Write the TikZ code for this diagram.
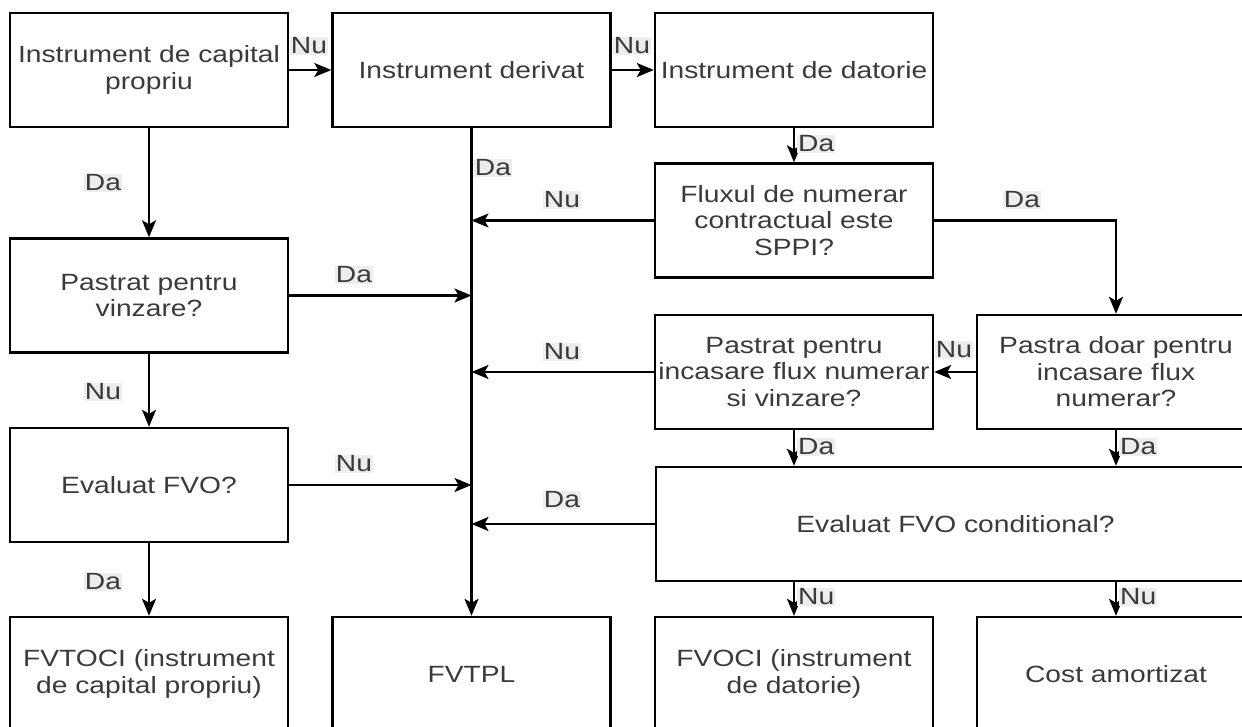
\documentclass[tikz,border=0pt]{standalone}
\usepackage{fontspec}
\setmainfont{Liberation Sans}[FakeStretch=1.2]
\usetikzlibrary{arrows.meta}
\definecolor{txt}{RGB}{58,58,58}
\begin{document}
\begin{tikzpicture}[x=1pt,y=-1pt,
  txtfont/.style={font=\fontsize{23.5}{26.5}\selectfont},
  box/.style={draw, line width=2.4pt, minimum width=278pt, minimum height=114pt,
    align=center, text=txt, txtfont, inner sep=2pt},
  lbl/.style={fill=black!7, inner sep=1pt, text=txt, txtfont},
  arr/.style={line width=2.2pt, -{Stealth[length=17pt,width=14pt,inset=4pt]}}]
\useasboundingbox (0,0) rectangle (1242,726);
\clip (0,0) rectangle (1242,726);
% column 1
\node[box] (cap) at (149,70) {Instrument de capital\\propriu};
\node[box] (vinz) at (149,295.5) {Pastrat pentru\\vinzare?};
\node[box] (evfvo) at (149,485) {Evaluat FVO?};
\node[box] (fvtoci) at (149,674) {FVTOCI (instrument\\de capital propriu)};
% column 2
\node[box] (deriv) at (471.5,70) {Instrument derivat};
\node[box] (fvtpl) at (471.5,674) {FVTPL};
% column 3
\node[box] (dat) at (794,70) {Instrument de datorie};
\node[box] (flux) at (794,220.5) {Fluxul de numerar\\contractual este\\SPPI?};
\node[box] (incas) at (794,372) {Pastrat pentru\\incasare flux numerar\\si vinzare?};
\node[box] (fvoci) at (794,674) {FVOCI (instrument\\de datorie)};
% column 4
\node[box] (doar) at (1116,372) {Pastra doar pentru\\incasare flux\\numerar?};
\node[box] (cost) at (1116,674) {Cost amortizat};
% wide box
\node[box, minimum width=599pt] (cond) at (955.5,524) {Evaluat FVO conditional?};

% connectors
\draw[arr] (cap.east) -- (deriv.west);
\draw[arr] (deriv.east) -- (dat.west);
\draw[arr] (cap.south) -- (vinz.north);
\draw[arr] (vinz.south) -- (evfvo.north);
\draw[arr] (evfvo.south) -- (fvtoci.north);
\draw[arr] (deriv.south) -- (fvtpl.north);
\draw[arr] (dat.south) -- (flux.north);
\coordinate (j1) at (deriv.south |- flux.west);
\coordinate (j2) at (deriv.south |- vinz.east);
\coordinate (j3) at (deriv.south |- incas.west);
\coordinate (j4) at (deriv.south |- evfvo.east);
\coordinate (j5) at (deriv.south |- cond.west);
\draw[arr] (flux.west) -- (j1);
\draw[arr] (vinz.east) -- (j2);
\draw[arr] (incas.west) -- (j3);
\draw[arr] (evfvo.east) -- (j4);
\draw[arr] (cond.west) -- (j5);
\draw[arr] (flux.east) -| (doar.north);
\draw[arr] (doar.west) -- (incas.east);
\draw[arr] (incas.south) -- (incas.south |- cond.north);
\draw[arr] (doar.south) -- (doar.south |- cond.north);
\draw[arr] (fvoci.north |- cond.south) -- (fvoci.north);
\draw[arr] (cost.north |- cond.south) -- (cost.north);

% labels
\node[lbl] (l1) at (309,46) {Nu};
\node[lbl] (l2) at (632,46) {Nu};
\node[lbl] (l3) at (103,183) {Da};
\node[lbl] (l4) at (103,392) {Nu};
\node[lbl] (l5) at (103,582) {Da};
\node[lbl] (l6) at (493,168) {Da};
\node[lbl, anchor=west] (l7) at (797,144) {Da};
\node[lbl] (l8) at (562,200) {Nu};
\node[lbl] (l9) at (354,275) {Da};
\node[lbl] (l10) at (562,352) {Nu};
\node[lbl] (l11) at (354,464) {Nu};
\node[lbl] (l12) at (562,500) {Da};
\node[lbl] (l13) at (1022,200) {Da};
\node[lbl] (l14) at (954,350) {Nu};
\node[lbl, anchor=west] (l15) at (797,447) {Da};
\node[lbl, anchor=west] (l16) at (1119,447) {Da};
\node[lbl, anchor=west] (l17) at (797,597) {Nu};
\node[lbl, anchor=west] (l18) at (1119,597) {Nu};
\end{tikzpicture}
\end{document}
